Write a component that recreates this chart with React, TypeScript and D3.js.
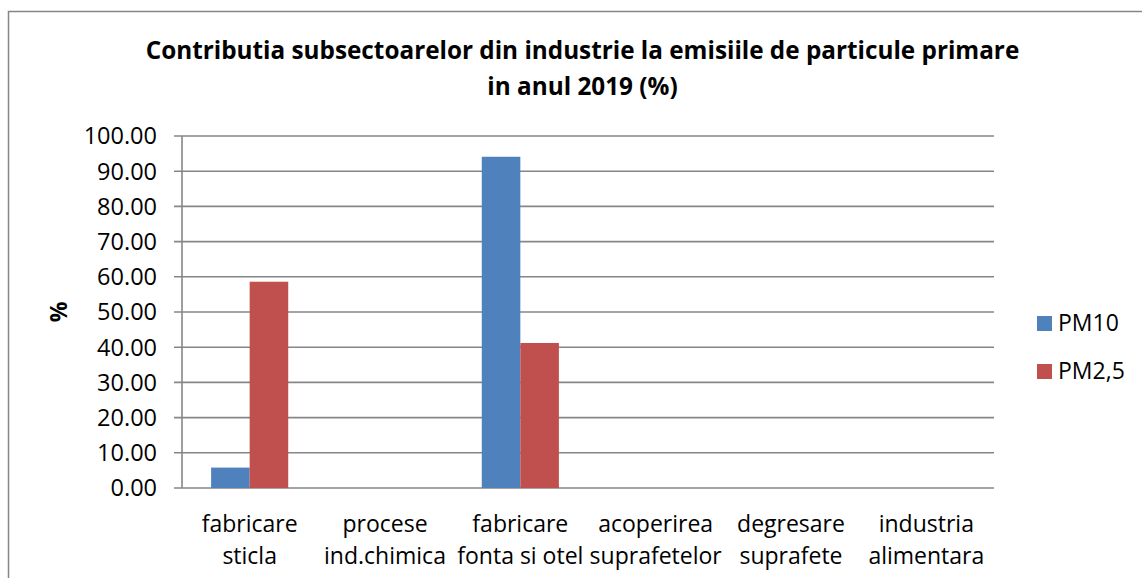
import React from "react";
import * as d3 from "d3";

const categories: string[][] = [
  ["fabricare", "sticla"],
  ["procese", "ind.chimica"],
  ["fabricare", "fonta si otel"],
  ["acoperirea", "suprafetelor"],
  ["degresare", "suprafete"],
  ["industria", "alimentara"],
];
const seriesNames = ["PM10", "PM2,5"];
const pm10 = [5.8, 0, 94.1, 0, 0, 0];
const pm25 = [58.6, 0, 41.2, 0, 0, 0];
const yTicks = [0, 10, 20, 30, 40, 50, 60, 70, 80, 90, 100];
const titleLines = [
  "Contributia subsectoarelor din industrie la emisiile de particule primare",
  "in anul 2019 (%)",
];
const colors = ["#4F81BD", "#C0504D"];

const W = 1142;
const H = 578;
const FONT = "'Open Sans', 'Noto Sans', sans-serif";

export default function App() {
  const left = 182;
  const right = 994;
  const top = 136;
  const bottom = 488;
  const x = d3
    .scaleBand<number>()
    .domain(categories.map((_, i) => i))
    .range([left, right])
    .paddingInner(0)
    .paddingOuter(0);
  const xs = d3
    .scaleBand<number>()
    .domain([0, 1])
    .range([0, x.step()])
    .paddingInner(0)
    .paddingOuter(0.755);
  const y = d3.scaleLinear().domain([0, 100]).range([bottom, top]);
  const series = [pm10, pm25];
  const grid = "#868686";

  return (
    <svg
      width={W}
      height={H}
      style={{ position: "absolute", left: 0, top: 0, background: "#fff" }}
      fontFamily={FONT}
    >
      <rect x={0} y={0} width={W} height={H} fill="#fff" />
      <rect x={8.5} y={11.5} width={1300} height={800} fill="none" stroke={grid} strokeWidth={1.5} />
      {titleLines.map((t, i) => (
        <text
          key={i}
          x={582.5}
          y={59 + i * 36}
          textAnchor="middle"
          fontWeight="bold"
          fontSize={24.3}
          fill="#000"
        >
          {t}
        </text>
      ))}
      {yTicks.map((t) => (
        <g key={t}>
          <line x1={174} x2={right} y1={y(t)} y2={y(t)} stroke={grid} strokeWidth={1.6} />
          <text
            x={157}
            y={y(t)}
            dy="0.36em"
            textAnchor="end"
            fontSize={23.5}
            fill="#000"
          >
            {d3.format(".2f")(t)}
          </text>
        </g>
      ))}
      <line x1={left} x2={left} y1={top} y2={bottom} stroke={grid} strokeWidth={1.6} />
      <text
        transform={`translate(59,312) rotate(-90)`}
        textAnchor="middle"
        dy="0.36em"
        fontWeight="bold"
        fontSize={23}
        fill="#000"
      >
        %
      </text>
      {series.map((vals, s) =>
        vals.map((v, i) =>
          v > 0 ? (
            <rect
              key={`${s}-${i}`}
              x={(x(i) as number) + (xs(s) as number)}
              y={y(v)}
              width={xs.bandwidth()}
              height={y(0) - y(v)}
              fill={colors[s]}
            />
          ) : null
        )
      )}
      {categories.map((lines, i) => (
        <text
          key={i}
          x={(x(i) as number) + x.bandwidth() / 2}
          textAnchor="middle"
          fontSize={23}
          fill="#000"
        >
          {lines.map((l, j) => (
            <tspan key={j} x={(x(i) as number) + x.bandwidth() / 2} y={532 + j * 32}>
              {l}
            </tspan>
          ))}
        </text>
      ))}
      {seriesNames.map((n, s) => (
        <g key={n}>
          <rect x={1037} y={316 + s * 48} width={15} height={15} fill={colors[s]} />
          <text x={1058} y={331 + s * 48} fontSize={23} fill="#000">
            {n}
          </text>
        </g>
      ))}
    </svg>
  );
}
